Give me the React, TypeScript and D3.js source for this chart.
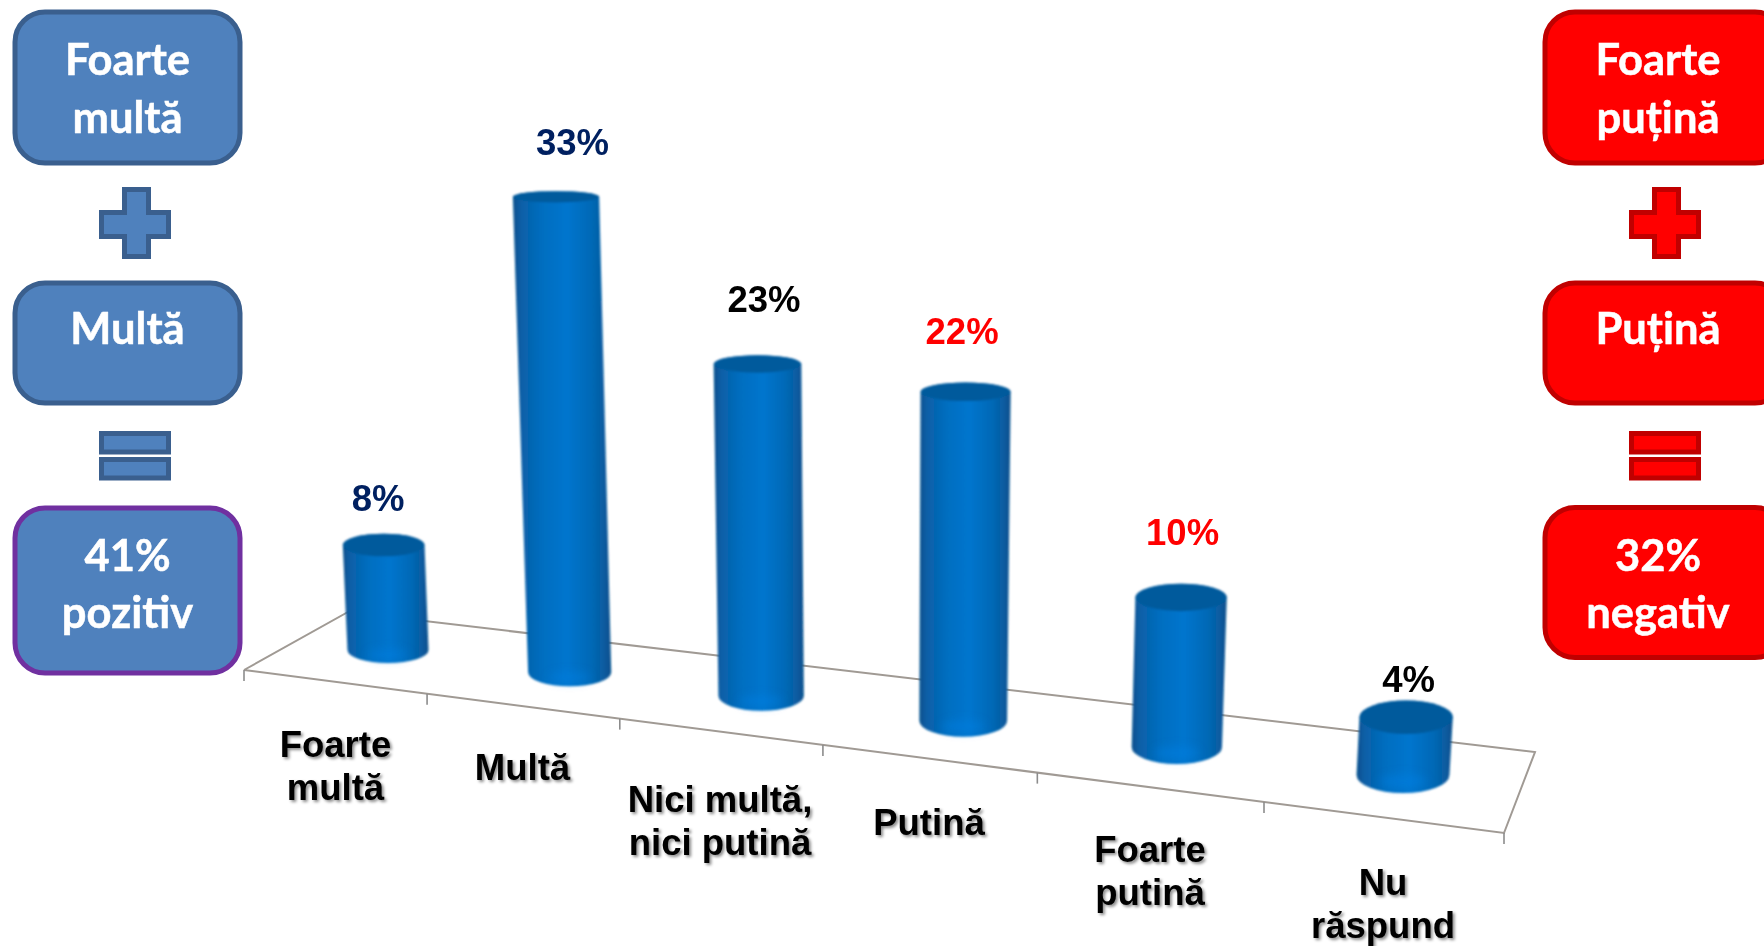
import React from "react";
import * as d3 from "d3";

// ---- data ----
const categories = [["Foarte", "multă"], ["Multă"], ["Nici multă,", "nici putină"], ["Putină"], ["Foarte", "putină"], ["Nu", "răspund"]];
const values = [7.5, 33.1, 22.5, 21.7, 9.6, 3.6];
const valueColors = ["#002060", "#002060", "#000000", "#ff0000", "#ff0000", "#000000"];
const leftBoxes = [["Foarte", "multă"], ["Multă"], ["41%", "pozitiv"]];
const rightBoxes = [["Foarte", "puțină"], ["Puțină"], ["32%", "negativ"]];

// ---- layout ----
const W = 1764, H = 946;
const persp = 0.128, floorPersp = 0.15;
const projective = (u: number, c: number) => (u * (1 - c)) / (1 - c * u);
const idx = d3.scaleLinear().domain([0, categories.length - 1]).range([0, 1]);
const baseX = d3.scaleLinear().domain([0, 1]).range([388, 1403]);
const baseY = d3.scaleLinear().domain([0, 1]).range([650, 775]);
const hScale = d3.scaleLinear().domain([0, 1]).range([0, 14]);
const ryScale = d3.scaleLinear().domain([0, 1]).range([13, 18]);

const floorFrontX = d3.scaleLinear().domain([0, 1]).range([244, 1504]);
const floorFrontY = d3.scaleLinear().domain([0, 1]).range([670, 833]);
const floorCorners: [number, number][] = [[244, 670], [348, 612], [1535, 752], [1504, 833]];

const labelNudge: [number, number][] = [[-5.5, -23], [16.5, -36], [6.5, -43], [-3.5, -38], [1.5, -39], [2.5, -9]];
const catPos: [number, number][] = [[335.5, 757], [522.5, 780], [720, 812], [929, 834.5], [1150, 862], [1383, 895]];
const catLine = 43;

const leftRows = [
  { y: 12, h: 151, lines: [75, 133] },
  { y: 283, h: 120, lines: [344, 0] },
  { y: 508, h: 165, lines: [571, 628] },
];
const rightRows = [leftRows[0], leftRows[1], { y: 507.5, h: 150, lines: [571, 628] }];
const leftTheme = { fill: "#4f81bd", stroke: "#3a5f8e", x: 15, w: 225, cx: 127.5, sym: 99, last: "#7030a0", rows: leftRows };
const rightTheme = { fill: "#ff0000", stroke: "#c00000", x: 1545, w: 240, cx: 1658, sym: 1629, last: "#c00000", rows: rightRows };

function Panel({ theme, boxes }: { theme: typeof leftTheme; boxes: string[][] }) {
  const sw = 5;
  const s = theme.sym + 2.5;
  const plus = d3.path();
  const a = 23, b = 47, L = 67; // plus arm offsets
  const py = 189.5;
  plus.moveTo(s + a, py);
  [[b, 0], [b, a], [L, a], [L, b], [b, b], [b, L], [a, L], [a, b], [0, b], [0, a], [a, a]].forEach(([dx, dy]) => plus.lineTo(s + dx, py + dy));
  plus.closePath();
  return (
    <g>
      {boxes.map((lines, i) => (
        <g key={i}>
          <rect x={theme.x} y={theme.rows[i].y} width={theme.w} height={theme.rows[i].h} rx={30} fill={theme.fill}
            stroke={i === 2 ? theme.last : theme.stroke} strokeWidth={sw} />
          {lines.map((t, j) => (
            <text key={j} x={theme.cx} y={theme.rows[i].lines[j]} textAnchor="middle" fill="#fff" stroke="#fff" strokeWidth={0.5}
              fontFamily="Lato, Carlito, sans-serif" fontWeight={700} fontSize={43.5}>{t}</text>
          ))}
        </g>
      ))}
      <path d={plus.toString()} fill={theme.fill} stroke={theme.stroke} strokeWidth={sw} />
      <rect x={s} y={433.5} width={67} height={18.5} fill={theme.fill} stroke={theme.stroke} strokeWidth={sw} />
      <rect x={s} y={459.5} width={67} height={18.5} fill={theme.fill} stroke={theme.stroke} strokeWidth={sw} />
    </g>
  );
}

export default function App() {
  const floor = d3.line()(floorCorners.concat([floorCorners[0]])) as string;
  const nCat = categories.length;
  const ticks = d3.range(nCat + 1).map((i) => {
    const t = projective(i / nCat, floorPersp);
    return { x: floorFrontX(t), y: floorFrontY(t) };
  });

  const bars = values.map((v, i) => {
    const u = idx(i);
    const t = projective(u, persp);
    const s = 1 / (1 - persp * u);
    const bx = baseX(t), by = baseY(t);
    const h = hScale(v) * s;
    const rx = 40.5 * s;
    const ry = ryScale(t);
    const rxTop = rx * (1 + h * 8e-5);
    const ryTop = ry * (1 - h / 800);
    const tx = bx + 0.5 + (bx - 900) * h * 9e-5;
    const ty = by - h;
    const body = `M${bx - rx},${by} A${rx},${ry} 0 0 0 ${bx + rx},${by} L${tx + rxTop},${ty} A${rxTop},${ryTop} 0 0 0 ${tx - rxTop},${ty} Z`;
    return { v, bx, by, rx, ry, tx, ty, rxTop, ryTop, body, topEdge: ty - ryTop };
  });

  return (
    <svg width={W} height={H} viewBox={`0 0 ${W} ${H}`} style={{ position: "fixed", left: 0, top: 0, background: "#fff" }}>
      <defs>
        <linearGradient id="cyl" x1="0" x2="1" y1="0" y2="0">
          <stop offset="0" stopColor="#064f8c" />
          <stop offset="0.08" stopColor="#0a5fa6" />
          <stop offset="0.3" stopColor="#006ec0" />
          <stop offset="0.55" stopColor="#0075ce" />
          <stop offset="0.8" stopColor="#0069b6" />
          <stop offset="0.93" stopColor="#0a5b9f" />
          <stop offset="1" stopColor="#064f8c" />
        </linearGradient>
        <filter id="soft" x="-10%" y="-10%" width="120%" height="120%">
          <feGaussianBlur stdDeviation="0.8" />
        </filter>
        <filter id="glow" x="-30%" y="-80%" width="160%" height="260%">
          <feGaussianBlur stdDeviation="4" />
        </filter>
        <filter id="shadow" x="-10%" y="-20%" width="125%" height="150%">
          <feDropShadow dx="2" dy="2" stdDeviation="1.5" floodColor="#000" floodOpacity="0.45" />
        </filter>
      </defs>

      <g fill="none" stroke="#a09a94" strokeWidth={2}>
        <path d={floor} />
        {ticks.map((k, i) => (
          <line key={i} x1={k.x} x2={k.x} y1={k.y} y2={k.y + 11} stroke="#8c8c8c" strokeWidth={1.6} />
        ))}
      </g>

      <g filter="url(#soft)">
        {bars.map((b, i) => (
          <g key={i}>
            <path d={b.body} fill="url(#cyl)" />
            <ellipse cx={b.tx} cy={b.ty} rx={b.rxTop} ry={b.ryTop} fill="#045a9c" />
          </g>
        ))}
      </g>
      <g filter="url(#glow)">
        {bars.map((b, i) => (
          <ellipse key={i} cx={b.bx} cy={b.by + b.ry * 0.35} rx={b.rx * 0.5} ry={b.ry * 0.4} fill="#0080e4" opacity={0.45} />
        ))}
      </g>

      {bars.map((b, i) => (
        <text key={i} x={b.tx + labelNudge[i][0]} y={b.topEdge + labelNudge[i][1]} textAnchor="middle" fill={valueColors[i]}
          fontFamily="Liberation Sans, Arial, sans-serif" fontWeight={700} fontSize={36.5}>{Math.round(b.v)}%</text>
      ))}

      <g filter="url(#shadow)">
        {categories.map((lines, i) =>
          lines.map((t, j) => (
            <text key={`${i}-${j}`} x={catPos[i][0]} y={catPos[i][1] + j * catLine} textAnchor="middle" fill="#000"
              fontFamily="Liberation Sans, Arial, sans-serif" fontWeight={700} fontSize={36.5}>{t}</text>
          ))
        )}
      </g>

      <Panel theme={leftTheme} boxes={leftBoxes} />
      <Panel theme={rightTheme} boxes={rightBoxes} />
    </svg>
  );
}
